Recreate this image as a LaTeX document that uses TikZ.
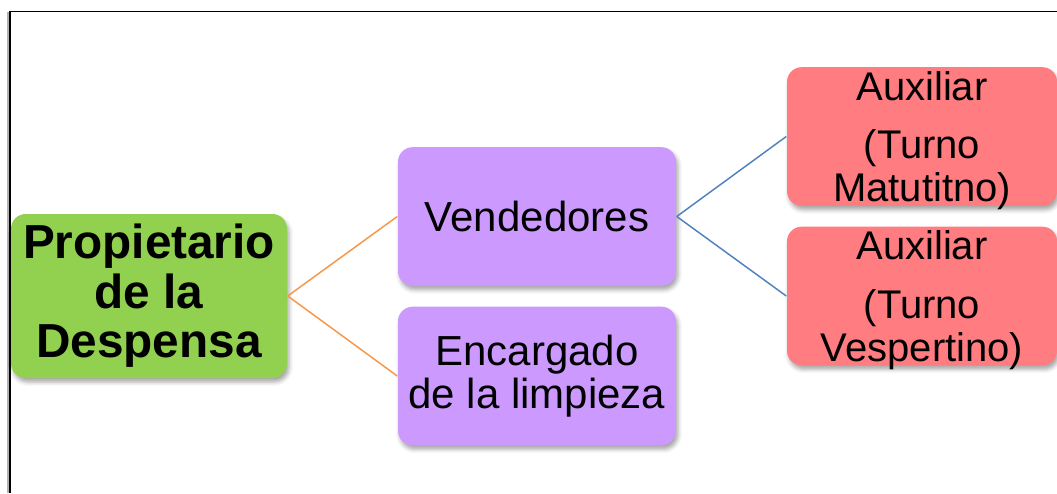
\documentclass[tikz,border=0pt]{standalone}
\usepackage{fontspec}
\setmainfont{Liberation Sans}
\usetikzlibrary{shadows.blur}
\definecolor{green1}{RGB}{146, 208, 80}
\definecolor{purple1}{RGB}{204, 153, 255}
\definecolor{red1}{RGB}{255, 124, 128}
\definecolor{orange1}{RGB}{247, 150, 70}
\definecolor{blue1}{RGB}{79, 129, 189}
\tikzset{
  box/.style={rounded corners=11pt, align=center, inner sep=0pt,
    blur shadow={shadow xshift=1.5pt, shadow yshift=-3pt, shadow blur radius=3pt, shadow opacity=35}},
  boss/.style={box, fill=green1, minimum width=207pt, minimum height=123pt,
    font=\fontsize{35.8}{37.2}\selectfont\bfseries},
  staff/.style={box, fill=purple1, minimum width=208.5pt, minimum height=104pt,
    font=\fontsize{31.5}{32.3}\selectfont},
  turno/.style={box, fill=red1, minimum width=202.5pt, minimum height=104pt,
    text depth=0pt, font=\fontsize{30}{32.3}\selectfont}
}

\begin{document}
\begin{tikzpicture}[x=0.75pt, y=-0.75pt, line width=1.1pt]
  \useasboundingbox (0,0) rectangle (1057,493);
  % marco
  \draw[gray!60, line width=0.8pt] (8,493) -- (8,12);
  \draw[line width=1.4pt] (10,493) -- (10,11.5) -- (1057,11.5);

  \node[boss] (dueno) at (149,296) {Propietario\\de la\\Despensa};

  \node[staff] (vend) at (537,216.5) {Vendedores};
  \node[staff] (limp) at (537,376) {Encargado\\de la limpieza};

  \node[turno] (mat) at (922,136.5) {Auxiliar\\[11.5pt](Turno\\Matutitno)};
  \node[turno] (vesp) at (922,296) {Auxiliar\\[11.5pt](Turno\\Vespertino)};

  \foreach \from/\to in {vend/mat, vend/vesp}
   \draw[blue1] (\from.east) -- (\to.west);
  \foreach \from/\to in {dueno/vend, dueno/limp}
   \draw[orange1] (\from.east) -- (\to.west);
\end{tikzpicture}
\end{document}
